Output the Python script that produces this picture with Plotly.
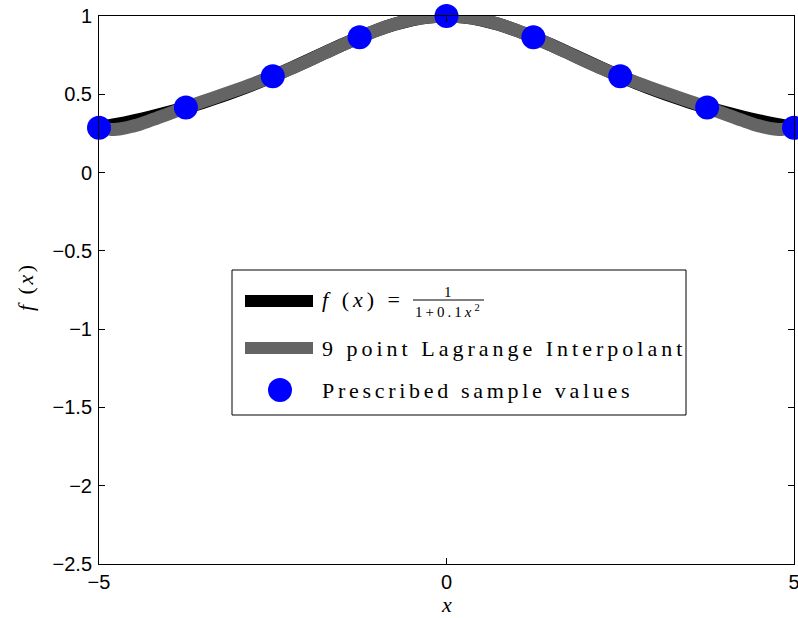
import plotly.graph_objects as go

# ---- data ----
x_curve = [-5.0, -4.75, -4.5, -4.25, -4.0, -3.75, -3.5, -3.25, -3.0, -2.75, -2.5,
           -2.25, -2.0, -1.75, -1.5, -1.25, -1.0, -0.75, -0.5, -0.25, 0.0,
           0.25, 0.5, 0.75, 1.0, 1.25, 1.5, 1.75, 2.0, 2.25, 2.5,
           2.75, 3.0, 3.25, 3.5, 3.75, 4.0, 4.25, 4.5, 4.75, 5.0]
f_exact = [0.28571, 0.30710, 0.33058, 0.35635, 0.38462, 0.41558, 0.44944, 0.48632, 0.52632, 0.56940, 0.61538,
           0.66390, 0.71429, 0.76555, 0.81633, 0.86486, 0.90909, 0.94675, 0.97561, 0.99379, 1.00000,
           0.99379, 0.97561, 0.94675, 0.90909, 0.86486, 0.81633, 0.76555, 0.71429, 0.66390, 0.61538,
           0.56940, 0.52632, 0.48632, 0.44944, 0.41558, 0.38462, 0.35635, 0.33058, 0.30710, 0.28571]
p_interp = [0.28571, 0.27600, 0.29810, 0.33430, 0.37510, 0.41558, 0.45460, 0.49270, 0.53130, 0.57180, 0.61538,
            0.66230, 0.71220, 0.76380, 0.81550, 0.86486, 0.90960, 0.94740, 0.97600, 0.99390, 1.00000,
            0.99390, 0.97600, 0.94740, 0.90960, 0.86486, 0.81550, 0.76380, 0.71220, 0.66230, 0.61538,
            0.57180, 0.53130, 0.49270, 0.45460, 0.41558, 0.37510, 0.33430, 0.29810, 0.27600, 0.28571]
x_samples = [-5.0, -3.75, -2.5, -1.25, 0.0, 1.25, 2.5, 3.75, 5.0]
y_samples = [0.28571, 0.41558, 0.61538, 0.86486, 1.0, 0.86486, 0.61538, 0.41558, 0.28571]

x_ticks = [-5, 0, 5]
y_ticks = [-2.5, -2, -1.5, -1, -0.5, 0, 0.5, 1]

W, H = 798, 618
L, R, T, B = 99, 794, 16, 564

def px(xp):
    return (xp - L) / (R - L)

def py(yp):
    return (B - yp) / (B - T)

def spaced(s, sp):
    return f'<span style="letter-spacing:{sp}px">{s}</span>'

GRAY = "#646464"
BLUE = "#0000ff"
SERIF = "Liberation Serif, Times New Roman, serif"
SANS = "Liberation Sans, Arial, sans-serif"

fig = go.Figure()
fig.add_trace(go.Scatter(x=x_curve, y=f_exact, mode="lines", line=dict(color="black", width=13, shape="spline"),
                         showlegend=False))
fig.add_trace(go.Scatter(x=x_curve, y=p_interp, mode="lines", line=dict(color=GRAY, width=13, shape="spline"),
                         showlegend=False))
fig.add_trace(go.Scatter(x=x_samples, y=y_samples, mode="markers", marker=dict(color=BLUE, size=24, line=dict(width=0)),
                         cliponaxis=False, showlegend=False))

axis_common = dict(showline=True, linecolor="black", linewidth=1, mirror="ticks", ticks="inside",
                   ticklen=6, tickcolor="black", showgrid=False, zeroline=False,
                   ticklabeloverflow="allow", automargin=False,
                   tickfont=dict(family=SANS, size=20, color="black"))
fig.update_xaxes(range=[-5, 5], tickvals=x_ticks, **axis_common)
fig.update_yaxes(range=[-2.5, 1], tickvals=y_ticks, ticklabelstandoff=2, **axis_common)

shapes = []
annotations = []
# legend box
shapes.append(dict(type="rect", xref="paper", yref="paper", x0=px(232), x1=px(686), y0=py(415), y1=py(270),
                   line=dict(color="black", width=1), fillcolor="white", layer="above"))
shapes.append(dict(type="line", xref="paper", yref="paper", x0=px(245), x1=px(313), y0=py(301), y1=py(301),
                   line=dict(color="black", width=12), layer="above"))
shapes.append(dict(type="line", xref="paper", yref="paper", x0=px(245), x1=px(313), y0=py(348), y1=py(348),
                   line=dict(color=GRAY, width=12), layer="above"))
shapes.append(dict(type="circle", xref="paper", yref="paper", x0=px(268), x1=px(292), y0=py(402), y1=py(378),
                   line=dict(width=0), fillcolor=BLUE, layer="above"))
# fraction bar
shapes.append(dict(type="line", xref="paper", yref="paper", x0=px(413), x1=px(484), y0=py(300), y1=py(300),
                   line=dict(color="black", width=1), layer="above"))

annotations.append(dict(x=px(320), y=py(300), xref="paper", yref="paper", xanchor="left", yanchor="middle",
                        text=spaced("<i>f</i> (<i>x</i>) =", 4), showarrow=False,
                        font=dict(family=SERIF, size=22, color="black")))
annotations.append(dict(x=px(448), y=py(292), xref="paper", yref="paper", xanchor="center", yanchor="middle",
                        text="1", showarrow=False, font=dict(family=SERIF, size=15, color="black")))
annotations.append(dict(x=px(413), y=py(311), xref="paper", yref="paper", xanchor="left", yanchor="middle",
                        text=spaced("1+0.1<i>x</i><sup>2</sup>", 3), showarrow=False,
                        font=dict(family=SERIF, size=15, color="black")))
annotations.append(dict(x=px(320), y=py(348), xref="paper", yref="paper", xanchor="left", yanchor="middle",
                        text=spaced("9 point Lagrange Interpolant", 4), showarrow=False,
                        font=dict(family=SERIF, size=22, color="black")))
annotations.append(dict(x=px(320), y=py(390), xref="paper", yref="paper", xanchor="left", yanchor="middle",
                        text=spaced("Prescribed sample values", 3.7), showarrow=False,
                        font=dict(family=SERIF, size=22, color="black")))
# axis labels
annotations.append(dict(x=0.5, y=py(604), xref="paper", yref="paper", xanchor="center", yanchor="middle",
                        text="<i>x</i>", showarrow=False, font=dict(family=SERIF, size=22, color="black")))
annotations.append(dict(x=px(25), y=py(287), xref="paper", yref="paper", xanchor="center", yanchor="middle",
                        text=spaced("<i>f</i> (<i>x</i>)", 2.5), textangle=-90, showarrow=False,
                        font=dict(family=SERIF, size=22, color="black")))

fig.update_layout(width=W, height=H, margin=dict(l=L, r=W - R, t=T, b=H - B, autoexpand=False),
                  paper_bgcolor="white", plot_bgcolor="white", showlegend=False,
                  shapes=shapes, annotations=annotations)

fig.write_html("out.html")
